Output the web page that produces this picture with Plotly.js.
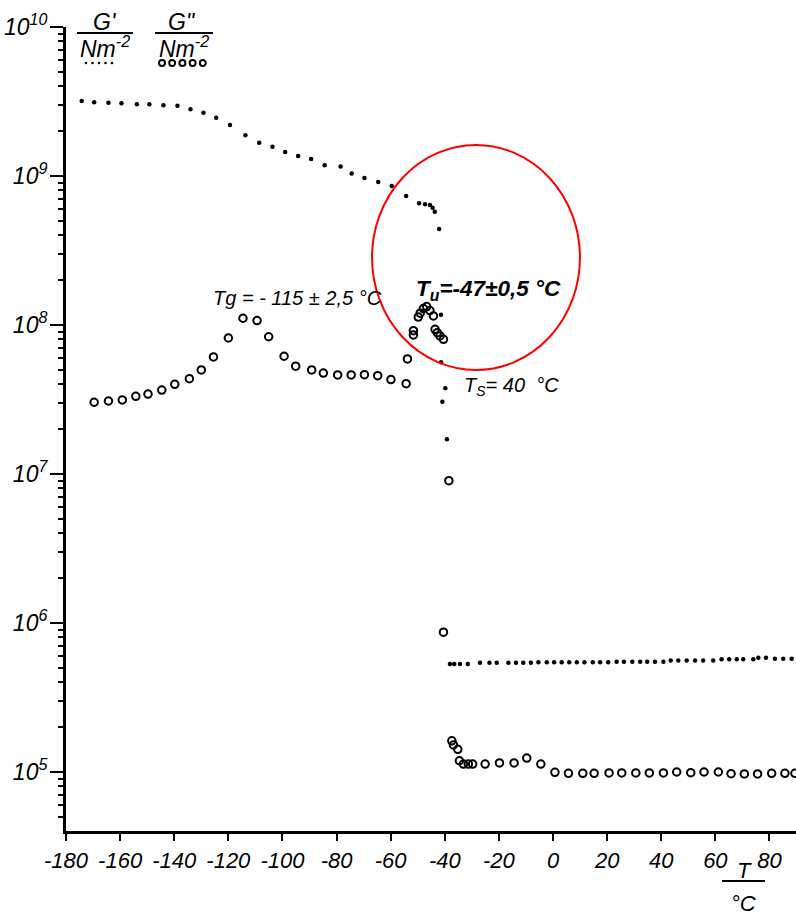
<!DOCTYPE html>
<html>
<head>
<meta charset="utf-8">
<script src="https://cdn.plot.ly/plotly-3.0.1.min.js"></script>
<style>html,body{margin:0;padding:0;background:#fff;}#chart{width:796px;height:923px;}</style>
</head>
<body>
<div id="chart"></div>
<script>
// Storage modulus G' (dots)
var gpT = [-174.2,-169.6,-164.3,-159.5,-153.8,-149.2,-144.0,-138.8,-134.0,-129.2,-124.5,-119.4,-113.7,-108.6,-103.7,-99.0,-94.2,-89.4,-84.4,-78.5,-74.4,-69.7,-64.6,-59.6,-54.3,-49.5,-47.3,-45.5,-44.5,-43.7,-42.1,-41.4,-41.4,-39.8,-40.9,-39.2,
  -38.1,-36.5,-34.4,-31.5,-27.0,-23.5,-20.8,-16.5,-13.7,-11.0,-8.2,-5.4,-2.3,0.4,3.2,6.0,8.8,11.6,14.7,17.4,20.4,23.5,26.2,29.3,32.2,34.8,37.7,40.8,43.5,46.3,49.4,52.5,55.5,59.2,62.3,65.1,67.9,70.3,74.0,75.9,78.7,82.0,85.1,88.2];
var gpG = [3.19e9,3.12e9,3.10e9,3.08e9,3.03e9,3.03e9,2.98e9,2.96e9,2.81e9,2.66e9,2.46e9,2.20e9,1.88e9,1.67e9,1.57e9,1.45e9,1.36e9,1.30e9,1.18e9,1.16e9,1.04e9,9.70e8,9.12e8,8.57e8,7.35e8,6.56e8,6.46e8,6.38e8,6.12e8,5.76e8,4.41e8,1.17e8,5.62e7,3.76e7,3.06e7,1.71e7,
  5.3e5,5.3e5,5.3e5,5.3e5,5.4e5,5.4e5,5.4e5,5.4e5,5.4e5,5.4e5,5.4e5,5.45e5,5.45e5,5.45e5,5.45e5,5.45e5,5.45e5,5.45e5,5.45e5,5.45e5,5.45e5,5.5e5,5.5e5,5.5e5,5.5e5,5.5e5,5.5e5,5.5e5,5.6e5,5.6e5,5.6e5,5.6e5,5.6e5,5.6e5,5.7e5,5.7e5,5.7e5,5.7e5,5.7e5,5.85e5,5.85e5,5.75e5,5.75e5,5.75e5];

// Loss modulus G'' (open circles)
var gppT = [-169.6,-164.3,-159.2,-154.2,-149.7,-144.6,-139.8,-134.4,-130.0,-125.5,-120.0,-114.6,-109.4,-105.1,-99.4,-95.1,-89.2,-84.9,-79.6,-74.6,-69.7,-64.8,-59.9,-54.3,-53.8,-51.6,-51.6,-49.8,-49.1,-47.9,-46.7,-45.5,-44.2,-43.6,-42.8,-41.8,-40.5,-38.5,-40.5,-37.4,-36.8,-35.2,-34.6,-33.1,-31.3,-29.7,-25.1,-19.8,-14.4,-9.7,-4.5,0.7,5.7,11.0,15.2,20.7,25.4,30.6,35.6,40.8,45.7,50.9,55.8,61.1,65.8,70.7,75.6,80.8,85.7,89.4];
var gppG = [3.03e7,3.09e7,3.14e7,3.32e7,3.44e7,3.66e7,4.00e7,4.36e7,4.99e7,6.10e7,8.18e7,1.11e8,1.07e8,8.34e7,6.17e7,5.29e7,4.99e7,4.76e7,4.62e7,4.62e7,4.64e7,4.57e7,4.30e7,4.04e7,5.92e7,9.16e7,8.57e7,1.13e8,1.20e8,1.29e8,1.33e8,1.25e8,1.15e8,9.36e7,8.88e7,8.44e7,8.01e7,9.02e6,8.67e5,1.62e5,1.52e5,1.42e5,1.19e5,1.13e5,1.13e5,1.13e5,1.13e5,1.15e5,1.15e5,1.24e5,1.13e5,9.95e4,9.8e4,9.8e4,9.8e4,9.85e4,9.85e4,9.85e4,9.85e4,9.85e4,1.0e5,9.9e4,1.0e5,1.0e5,9.75e4,9.7e4,9.7e4,9.8e4,9.8e4,9.8e4];

// Axis ticks
var xTickVals = [-180,-160,-140,-120,-100,-80,-60,-40,-20,0,20,40,60,80];
var xTickLabels = ['-180','-160','-140','-120','-100','-80','-60','-40','-20','0','20','40','60','80'];
var yDecadeVals = [1e5,1e6,1e7,1e8,1e9,1e10];
var yDecadeLabels = ['10<sup>5</sup>','10<sup>6</sup>','10<sup>7</sup>','10<sup>8</sup>','10<sup>9</sup>','10<sup>10</sup>'];
var yMinorMantissas = [2,3,4,5,6,7,8,9];
var yMinorDecades = [4,5,6,7,8,9];

var yMinorVals = [];
yMinorDecades.forEach(function(d){ yMinorMantissas.forEach(function(m){ yMinorVals.push(m * Math.pow(10, d)); }); });

// Layout helpers: pixel -> paper
var L = 66, R = 796, TOP = 27, BOT = 831;
function px(x){ return (x - L) / (R - L); }
function py(y){ return (BOT - y) / (BOT - TOP); }

var FONT = 'Liberation Sans, Arial, sans-serif';
function itf(size, weight){ return {family: FONT, size: size, color: '#000', style: 'italic', weight: weight || 400}; }

var traces = [
  {x: gpT, y: gpG, type: 'scatter', mode: 'markers', name: "G'",
   marker: {symbol: 'circle', size: 4.5, color: '#000'}},
  {x: gppT, y: gppG, type: 'scatter', mode: 'markers', name: 'G"', yaxis: 'y2',
   marker: {symbol: 'circle-open', size: 7.5, color: '#000', line: {width: 2, color: '#000'}}}
];

var shapes = [];
// Legend fraction bars
shapes.push({type: 'line', xref: 'paper', yref: 'paper', x0: px(77), x1: px(133), y0: py(33), y1: py(33), line: {color: '#000', width: 2}});
shapes.push({type: 'line', xref: 'paper', yref: 'paper', x0: px(155), x1: px(213), y0: py(33), y1: py(33), line: {color: '#000', width: 2}});
// Legend keys
for (var i = 0; i < 5; i++) {
  shapes.push({type: 'circle', xref: 'paper', yref: 'paper', xsizemode: 'pixel', ysizemode: 'pixel',
    xanchor: px(86 + i * 6.5), yanchor: py(63), x0: -1.3, x1: 1.3, y0: -1.3, y1: 1.3, fillcolor: '#000', line: {width: 0}});
  shapes.push({type: 'circle', xref: 'paper', yref: 'paper', xsizemode: 'pixel', ysizemode: 'pixel',
    xanchor: px(162 + i * 10.2), yanchor: py(63), x0: -3, x1: 3, y0: -3, y1: 3, line: {width: 2, color: '#000'}});
}
// Red highlight ellipse
shapes.push({type: 'circle', xref: 'paper', yref: 'paper', x0: px(372), x1: px(580), y0: py(370), y1: py(145),
  line: {color: '#ff0000', width: 2}});
// x-axis title fraction bar
shapes.push({type: 'line', xref: 'paper', yref: 'paper', x0: px(722), x1: px(765), y0: py(881), y1: py(881), line: {color: '#000', width: 2}});

var annotations = [
  {text: "G'", x: px(105), y: py(22), xref: 'paper', yref: 'paper', showarrow: false, font: itf(23), xanchor: 'center', yanchor: 'middle'},
  {text: 'Nm<sup>-2</sup>', x: px(105), y: py(47), xref: 'paper', yref: 'paper', showarrow: false, font: itf(23), xanchor: 'center', yanchor: 'middle'},
  {text: 'G"', x: px(182), y: py(22), xref: 'paper', yref: 'paper', showarrow: false, font: itf(23), xanchor: 'center', yanchor: 'middle'},
  {text: 'Nm<sup>-2</sup>', x: px(184), y: py(47), xref: 'paper', yref: 'paper', showarrow: false, font: itf(23), xanchor: 'center', yanchor: 'middle'},
  {text: 'Tg = - 115 ± 2,5 °C', x: px(211), y: py(298), xref: 'paper', yref: 'paper', showarrow: false, font: itf(20), xanchor: 'left', yanchor: 'middle'},
  {text: 'T<sub>u</sub>=-47±0,5 °C', x: px(414), y: py(290), xref: 'paper', yref: 'paper', showarrow: false, font: itf(22.5, 700), xanchor: 'left', yanchor: 'middle'},
  {text: 'T<sub>S</sub>= 40  °C', x: px(462), y: py(387), xref: 'paper', yref: 'paper', showarrow: false, font: itf(20, 400), xanchor: 'left', yanchor: 'middle'},
  {text: 'T', x: px(744), y: py(870), xref: 'paper', yref: 'paper', showarrow: false, font: itf(22), xanchor: 'center', yanchor: 'middle'},
  {text: '°C', x: px(743), y: py(903), xref: 'paper', yref: 'paper', showarrow: false, font: itf(22), xanchor: 'center', yanchor: 'middle'}
];

var yCommon = {type: 'log', range: [4.604, 10], showgrid: false, zeroline: false};

var layout = {
  width: 796, height: 923,
  margin: {l: L, r: 796 - R, t: TOP, b: 923 - BOT, pad: 0},
  showlegend: false,
  xaxis: {
    range: [-180, 89.8], showgrid: false, zeroline: false,
    showline: true, linecolor: '#000', linewidth: 3,
    ticks: 'outside', ticklen: 7, tickwidth: 2, tickcolor: '#000',
    tickmode: 'array', tickvals: xTickVals, ticktext: xTickLabels,
    tickfont: itf(22), ticklabelstandoff: 1
  },
  yaxis: Object.assign({}, yCommon, {
    showline: true, linecolor: '#000', linewidth: 3,
    ticks: 'outside', ticklen: 13, tickwidth: 2, tickcolor: '#000',
    tickmode: 'array', tickvals: yDecadeVals, ticktext: yDecadeLabels,
    tickfont: itf(23), ticklabelstandoff: -2
  }),
  yaxis2: Object.assign({}, yCommon, {
    overlaying: 'y', side: 'left', anchor: 'x',
    showline: false, showticklabels: false,
    ticks: 'outside', ticklen: 7, tickwidth: 2, tickcolor: '#000',
    tickmode: 'array', tickvals: yMinorVals
  }),
  shapes: shapes,
  annotations: annotations
};

Plotly.newPlot('chart', traces, layout, {displayModeBar: false, staticPlot: true});
</script>
</body>
</html>
